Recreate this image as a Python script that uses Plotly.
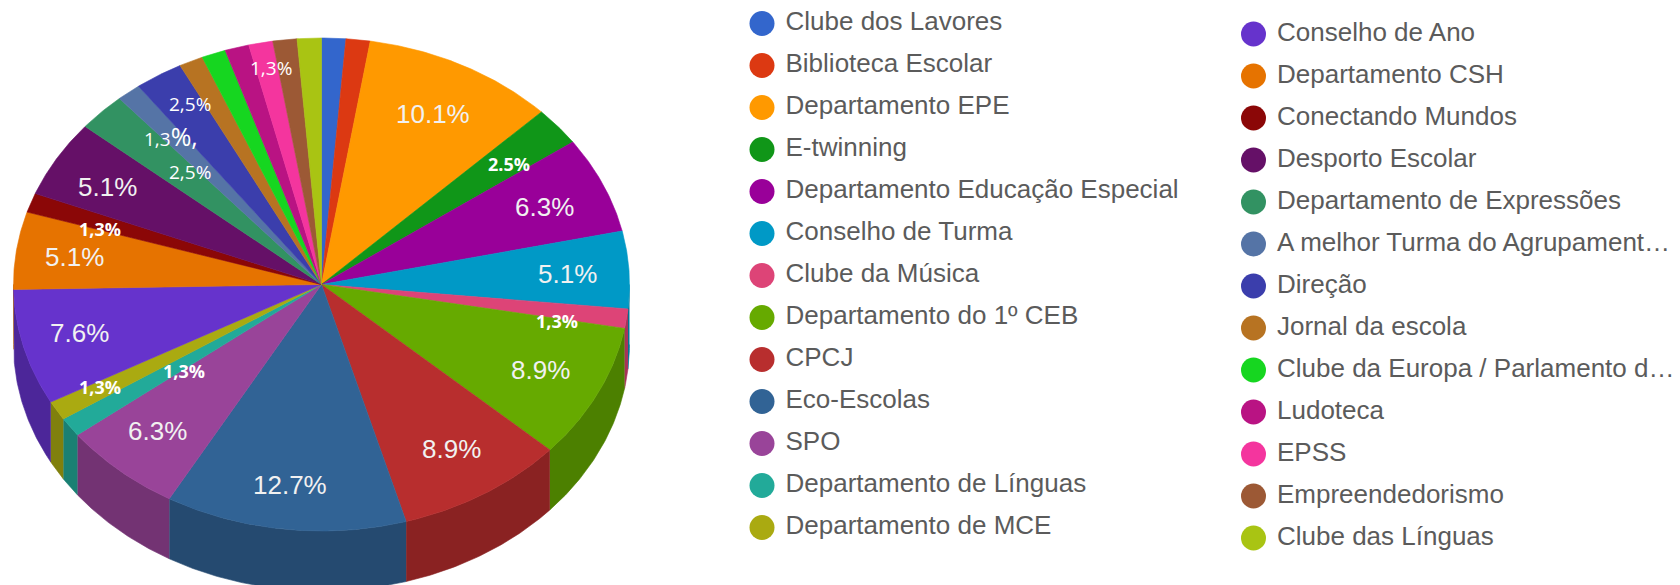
import numpy as np
import plotly.graph_objects as go

# ---- data ----
categories = ["Clube dos Lavores", "Biblioteca Escolar", "Departamento EPE", "E-twinning",
              "Departamento Educação Especial", "Conselho de Turma", "Clube da Música",
              "Departamento do 1º CEB", "CPCJ", "Eco-Escolas", "SPO", "Departamento de Línguas",
              "Departamento de MCE", "Conselho de Ano", "Departamento CSH", "Conectando Mundos",
              "Desporto Escolar", "Departamento de Expressões", "A melhor Turma do Agrupament…",
              "Direção", "Jornal da escola", "Clube da Europa / Parlamento d…", "Ludoteca", "EPSS",
              "Empreendedorismo", "Clube das Línguas"]
counts = [1, 1, 8, 2, 5, 4, 1, 7, 7, 10, 5, 1, 1, 6, 4, 1, 4, 2, 1, 2, 1, 1, 1, 1, 1, 1]
colors = ["#3366cc", "#dc3912", "#ff9900", "#109618", "#990099", "#0099c6", "#dd4477", "#66aa00",
          "#b82e2e", "#316395", "#994499", "#22aa99", "#aaaa11", "#6633cc", "#e67300", "#8b0707",
          "#651067", "#329262", "#5574a6", "#3b3eac", "#b77322", "#16d620", "#b91383", "#f4359e",
          "#9c5935", "#a9c413"]

big = "big"; small = "small"; bold = "bold"
# category index: (text, style, radial fraction, angular nudge in degrees)
slice_labels = {
    2: ("10.1%", big, 0.78, 0.4),
    3: ("2.5%", bold, 0.78, 1.0),
    4: ("6.3%", big, 0.79, 0.4),
    5: ("5.1%", big, 0.80, 0.3),
    6: ("1,3%", bold, 0.78, 2.9),
    7: ("8.9%", big, 0.79, -0.3),
    8: ("8.9%", big, 0.79, -0.3),
    9: ("12.7%", big, 0.82, 0.4),
    10: ("6.3%", big, 0.80, 0.8),
    11: ("1,3%", bold, 0.57, -2.9),
    12: ("1,3%", bold, 0.83, 0.7),
    13: ("7.6%", big, 0.81, 0.7),
    14: ("5.1%", big, 0.81, -0.1),
    15: ("1,3%", bold, 0.755, -1.9),
    16: ("5.1%", big, 0.80, -1.0),
    17: ("2,5%", small, 0.625, 2.3),
    18: ('1,3<span style="font-size:25px">%,</span>', small, 0.776, -0.3),
    19: ("2,5%", small, 0.848, 1.6),
    23: ("1,3%", small, 0.892, 0.9),
}

# ---- layout constants (pixels of the 1680x585 page) ----
W, H = 1680, 585
CX, CY, RX, RY, DEPTH = 321.5, 284.5, 308, 246.5, 60
LEG_COLS = [(0, 13, 762, 23.5), (13, 26, 1253.5, 34)]
LEG_STEP = 42
LEG_TEXT_DX = 23.5
DARK = 0.75

label_fonts = {
    big: dict(family="Liberation Sans, Arial, sans-serif", size=26, color="#f1f1f1"),
    small: dict(family="Open Sans, sans-serif", size=19, color="#ffffff"),
    bold: dict(family="Open Sans, sans-serif", size=18, color="#ffffff", weight="bold"),
}

total = sum(counts)
edges = np.cumsum([0] + counts) / total * 360.0


def px(theta_deg, frac=1.0, dy=0.0):
    t = np.radians(theta_deg)
    return CX + RX * frac * np.sin(t), CY - RY * frac * np.cos(t) + dy


def arc(a, b):
    n = max(2, int(abs(b - a) / 0.5) + 2)
    return np.linspace(a, b, n)


def darken(hex_color, k):
    r, g, b = (int(hex_color[i:i + 2], 16) for i in (1, 3, 5))
    return f"rgb({round(r * k)},{round(g * k)},{round(b * k)})"


fig = go.Figure()

# side walls of the front half
for i, c in enumerate(colors):
    a, b = max(edges[i], 90.0), min(edges[i + 1], 270.0)
    if b <= a:
        continue
    th = arc(a, b)
    x1, y1 = px(th)
    x2, y2 = px(th[::-1], dy=DEPTH)
    col = darken(c, DARK)
    fig.add_trace(go.Scatter(x=np.r_[x1, x2], y=np.r_[y1, y2], mode="lines", fill="toself",
                             fillcolor=col, line=dict(color=col, width=0.6),
                             hoverinfo="skip", showlegend=False))

# top face
for i, c in enumerate(colors):
    th = arc(edges[i], edges[i + 1])
    x1, y1 = px(th)
    fig.add_trace(go.Scatter(x=np.r_[CX, x1, CX], y=np.r_[CY, y1, CY], mode="lines", fill="toself",
                             fillcolor=c, line=dict(color=c, width=0.6),
                             hoverinfo="skip", showlegend=False))

# legend
for start, stop, mx, my in LEG_COLS:
    idx = list(range(start, stop))
    ys = [my + LEG_STEP * k for k in range(len(idx))]
    fig.add_trace(go.Scatter(x=[mx] * len(idx), y=ys, mode="markers",
                             marker=dict(size=25, color=[colors[i] for i in idx], line=dict(width=0)),
                             hoverinfo="skip", showlegend=False))
    fig.add_trace(go.Scatter(x=[mx + LEG_TEXT_DX] * len(idx), y=ys, mode="text",
                             text=[categories[i] for i in idx], textposition="middle right",
                             textfont=dict(family="Liberation Sans, Arial, sans-serif", size=26, color="#5b5b5b"),
                             hoverinfo="skip", showlegend=False))

# slice labels
for i, (txt, style, frac, nudge) in slice_labels.items():
    mid = (edges[i] + edges[i + 1]) / 2 + nudge
    x, y = px(mid, frac)
    fig.add_annotation(x=x, y=y, xref="x", yref="y", text=txt, showarrow=False,
                       font=label_fonts[style], xanchor="center", yanchor="middle")

fig.update_layout(width=W, height=H, margin=dict(l=0, r=0, t=0, b=0),
                  paper_bgcolor="white", plot_bgcolor="white", showlegend=False,
                  xaxis=dict(range=[0, W], visible=False, fixedrange=True),
                  yaxis=dict(range=[H, 0], visible=False, fixedrange=True))
fig.write_html("out.html", config=dict(displayModeBar=False, responsive=False),
               post_script="document.body.style.margin='0';document.body.style.overflow='hidden';")
